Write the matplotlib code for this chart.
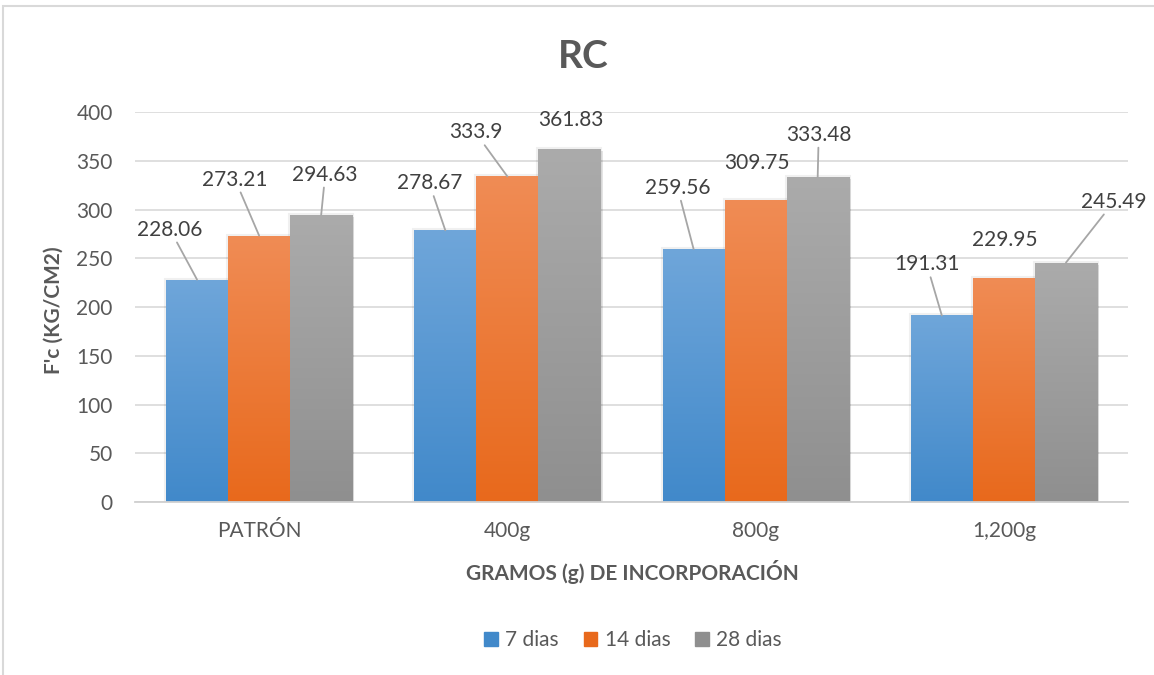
import numpy as np
import matplotlib.pyplot as plt
from matplotlib import patheffects
from matplotlib.colors import LinearSegmentedColormap
from matplotlib.patches import Rectangle

plt.rcParams['font.family'] = ['Lato', 'DejaVu Sans']

categories = ['PATRÓN', '400g', '800g', '1,200g']
series = ['7 dias', '14 dias', '28 dias']
dias_7 = [228.06, 278.67, 259.56, 191.31]
dias_14 = [273.21, 333.9, 309.75, 229.95]
dias_28 = [294.63, 361.83, 333.48, 245.49]
yticks = list(range(0, 401, 50))

# gradient colours (bottom, top) for each series
colors = [('#4189ca', '#6fa6da'), ('#e8691c', '#f08c55'), ('#8f8f8f', '#ababab')]
# label offsets in pixels from the top of each bar, and whether a leader line is drawn
label_pos = [
    [(-27, 50, True), (-16, 47, True), (-16, 61, True), (-15, 51, True)],
    [(-24, 56, True), (-32, 44, True), (1, 37, False), (1, 38, False)],
    [(4, 40, True), (1, 29, False), (1, 42, True), (48, 61, True)],
]
text_col = '#595959'

fig = plt.figure(figsize=(11.54, 6.75), dpi=100)
ax = fig.add_axes([135 / 1154, 1 - 502 / 675, (1128 - 135) / 1154, 390 / 675])

x = np.arange(len(categories))
w = 0.25
halo = [patheffects.Stroke(linewidth=3, foreground='#000000', alpha=0.06),
        patheffects.SimplePatchShadow(offset=(1.5, -1.5), shadow_rgbFace='#000000', alpha=0.1),
        patheffects.Normal()]

for i, vals in enumerate([dias_7, dias_14, dias_28]):
    bottom_c, top_c = colors[i]
    cmap = LinearSegmentedColormap.from_list('g%d' % i, [bottom_c, top_c])
    bars = ax.bar(x + (i - 1) * w, vals, w, color=top_c, zorder=2,
                  path_effects=halo, label=series[i], linewidth=0)
    for j, b in enumerate(bars):
        x0, h = b.get_x(), b.get_height()
        im = ax.imshow(np.linspace(0, 1, 256).reshape(-1, 1), extent=[x0, x0 + w, 0, h],
                       origin='lower', cmap=cmap, aspect='auto', zorder=2.5)
        im.set_clip_path(b)
        dx, dy, line = label_pos[i][j]
        kw = {}
        if line:
            kw['arrowprops'] = dict(arrowstyle='-', color='#a6a6a6', lw=1.3,
                                    shrinkA=0, shrinkB=0)
        ax.annotate(f'{vals[j]:g}', xy=(x0 + w / 2, h), xytext=(dx, dy),
                    textcoords='offset pixels', ha='center', va='center',
                    fontsize=15, color='#404040', zorder=4, **kw)

ax.set_xlim(-0.5, 3.5)
ax.set_ylim(0, 400)
ax.set_yticks(yticks)
ax.set_xticks(x, categories)
ax.grid(axis='y', color='#d9d9d9', lw=1.2, zorder=0)
ax.set_axisbelow(True)
for s in ['top', 'right', 'left']:
    ax.spines[s].set_visible(False)
ax.spines['bottom'].set_color('#d0d0d0')
ax.spines['bottom'].set_linewidth(1.3)
ax.tick_params(axis='both', length=0, labelsize=15, labelcolor=text_col)
ax.tick_params(axis='y', pad=16)
ax.tick_params(axis='x', pad=14)

fig.text(583 / 1154, 1 - 56 / 675, 'RC', ha='center', va='center',
         fontsize=28, fontweight='bold', color=text_col)
fig.text(54 / 1154, 1 - 310 / 675, "F'c (KG/CM2)", ha='center', va='center',
         rotation=90, fontsize=15, fontweight='bold', color=text_col)
fig.text(632 / 1154, 1 - 572 / 675, 'GRAMOS (g) DE INCORPORACIÓN', ha='center',
         va='center', fontsize=15, fontweight='bold', color=text_col)

handles = [Rectangle((0, 0), 1, 1, color=c[0]) for c in colors]
leg = fig.legend(handles, series, loc='center', bbox_to_anchor=(633 / 1154, 1 - 640 / 675),
                 ncol=3, frameon=False, fontsize=15, handlelength=0.65, handleheight=0.65,
                 handletextpad=0.35, columnspacing=1.2)
for t in leg.get_texts():
    t.set_color(text_col)

# chart border
fig.patches.append(Rectangle((3 / 1154, -0.1), 1.2, 1.1 - 6 / 675, transform=fig.transFigure,
                             fill=False, edgecolor='#d9d9d9', lw=1.5))

fig.savefig('out.png', dpi=100)
